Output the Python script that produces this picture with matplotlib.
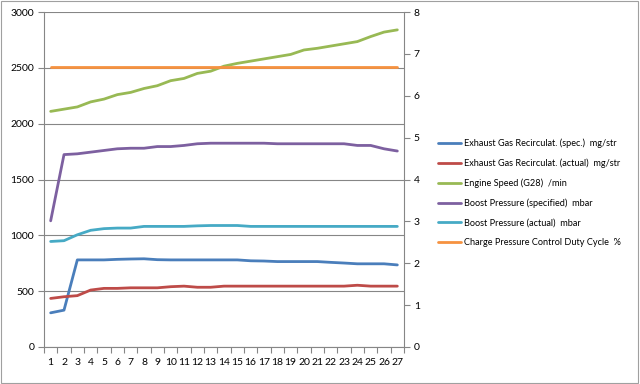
import numpy as np
import matplotlib.pyplot as plt
from matplotlib.patches import Rectangle

plt.rcParams['font.family'] = ['Lato', 'DejaVu Sans']

samples = list(range(1, 28))

egr_spec = [306, 330, 780, 780, 780, 785, 788, 790, 782, 780, 780, 780, 780, 780, 780,
            772, 770, 765, 765, 765, 765, 758, 752, 745, 745, 745, 735]
egr_actual = [435, 450, 460, 510, 525, 525, 530, 530, 530, 540, 545, 535, 535, 545, 545,
              545, 545, 545, 545, 545, 545, 545, 545, 553, 545, 545, 545]
engine_speed = [2110, 2130, 2150, 2195, 2220, 2260, 2280, 2315, 2340, 2385, 2405, 2450,
                2470, 2515, 2540, 2560, 2580, 2600, 2620, 2660, 2675, 2695, 2715, 2735,
                2780, 2820, 2840]
boost_spec = [1130, 1723, 1730, 1745, 1760, 1775, 1780, 1780, 1795, 1795, 1805, 1820,
              1825, 1825, 1825, 1825, 1825, 1820, 1820, 1820, 1820, 1820, 1820, 1805,
              1805, 1775, 1755]
boost_actual = [945, 952, 1005, 1045, 1060, 1065, 1065, 1080, 1080, 1080, 1080, 1085,
                1088, 1088, 1088, 1080, 1080, 1080, 1080, 1080, 1080, 1080, 1080, 1080,
                1080, 1080, 1080]
duty_cycle = [2505] * 27

series = [
    ('Exhaust Gas Recirculat. (spec.)  mg/str', egr_spec, '#4A7EBB'),
    ('Exhaust Gas Recirculat. (actual)  mg/str', egr_actual, '#BE4B48'),
    ('Engine Speed (G28)  /min', engine_speed, '#98B954'),
    ('Boost Pressure (specified)  mbar', boost_spec, '#7D60A0'),
    ('Boost Pressure (actual)  mbar', boost_actual, '#46AAC5'),
    ('Charge Pressure Control Duty Cycle  %', duty_cycle, '#F69240'),
]

fig = plt.figure(figsize=(6.4, 3.84), dpi=100)
ax = fig.add_axes([44 / 640, 1 - 347 / 384, 360 / 640, 335 / 384])

handles = []
for label, vals, col in series:
    h, = ax.plot(samples, vals, color=col, lw=2.0, label=label, solid_capstyle='round')
    handles.append(h)

grid_col = '#868686'
ax.set_xlim(0.5, 27.5)
ax.set_ylim(0, 3000)
ax.set_yticks(np.arange(0, 3001, 500))
ax.yaxis.grid(True, color=grid_col, lw=0.8)
ax.set_axisbelow(True)
ax.set_xticks(samples)
ax.set_xticks(np.arange(0.5, 28, 1), minor=True)
ax.tick_params(axis='x', which='major', length=0, pad=8, labelsize=7.5, colors='#000000')
ax.tick_params(axis='x', which='minor', length=4, color=grid_col, width=0.8)
ax.tick_params(axis='y', length=4, color=grid_col, width=0.8, labelsize=7.5, pad=3)
for s in ['top', 'right']:
    ax.spines[s].set_visible(False)
for s in ['left', 'bottom']:
    ax.spines[s].set_color(grid_col)
    ax.spines[s].set_linewidth(0.8)

ax2 = ax.twinx()
ax2.set_ylim(0, 8)
ax2.set_yticks(range(0, 9))
ax2.tick_params(axis='y', length=4, color=grid_col, width=0.8, labelsize=7.5, pad=3)
for s in ['top', 'left', 'bottom']:
    ax2.spines[s].set_visible(False)
ax2.spines['right'].set_color(grid_col)
ax2.spines['right'].set_linewidth(0.8)

fig.legend(handles=handles, loc='upper left', bbox_to_anchor=(430 / 640, 1 - 130 / 384),
           frameon=False, fontsize=6.6, handlelength=2.5, handletextpad=0.3,
           labelspacing=1.15)

fig.patches.append(Rectangle((0.002, 0.003), 0.995, 0.994, transform=fig.transFigure,
                             fill=False, edgecolor='#A0A0A0', lw=0.8))

fig.savefig('out.png', dpi=100)
